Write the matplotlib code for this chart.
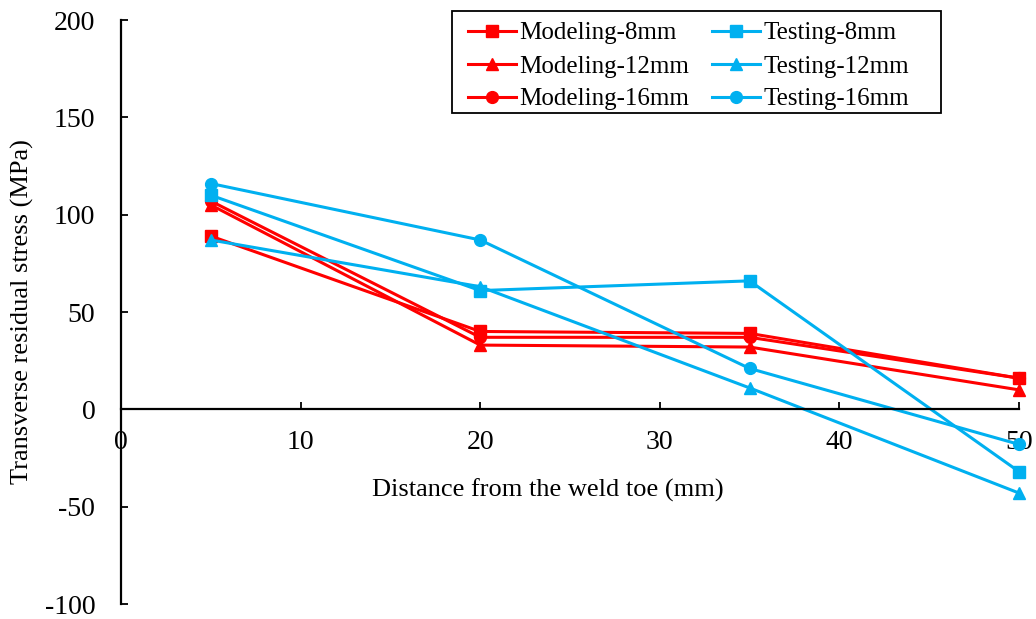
import matplotlib
matplotlib.use("Agg")
import matplotlib.pyplot as plt
from matplotlib.patches import Rectangle

plt.rcParams['font.family'] = ['Liberation Serif', 'DejaVu Serif']

distance = [5, 20, 35, 50]
modeling_8 = [89, 40, 39, 16]
modeling_12 = [105, 33, 32, 10]
modeling_16 = [107, 37, 37, 16]
testing_8 = [110, 61, 66, -32]
testing_12 = [87, 63, 11, -43]
testing_16 = [116, 87, 21, -18]

x_ticks = [0, 10, 20, 30, 40, 50]
y_ticks = [-100, -50, 0, 50, 100, 150, 200]

RED = '#FF0000'
BLUE = '#00B0F0'

W, H = 1036, 619
fig = plt.figure(figsize=(W/100, H/100), dpi=100)
ax = fig.add_axes([121/W, 1-604/H, 898/W, 584/H])

series = [
    (modeling_8, 'Modeling-8mm', RED, 's'),
    (modeling_12, 'Modeling-12mm', RED, '^'),
    (modeling_16, 'Modeling-16mm', RED, 'o'),
    (testing_8, 'Testing-8mm', BLUE, 's'),
    (testing_12, 'Testing-12mm', BLUE, '^'),
    (testing_16, 'Testing-16mm', BLUE, 'o'),
]
for vals, lab, col, mk in series:
    ms = 8.5 if mk != 's' else 8
    ax.plot(distance, vals, color=col, marker=mk, markersize=ms, linewidth=2.2,
            label=lab, clip_on=False)

ax.set_xlim(0, 50)
ax.set_ylim(-100, 200)
ax.set_xticks(x_ticks)
ax.set_yticks(y_ticks)
ax.set_xticklabels([str(t) for t in x_ticks])
ax.set_yticklabels([str(t) for t in y_ticks])

ax.spines['top'].set_visible(False)
ax.spines['right'].set_visible(False)
ax.spines['bottom'].set_position(('data', 0))
for s in ('left', 'bottom'):
    ax.spines[s].set_linewidth(1.6)

ax.tick_params(axis='y', direction='in', length=5, width=1.3, labelsize=20, pad=18.5)
ax.tick_params(axis='x', direction='in', length=5, width=1.3, labelsize=20, pad=15)

ax.set_xlabel('Distance from the weld toe (mm)', fontsize=19)
ax.xaxis.set_label_coords(0.4755, 0.215)
ax.set_ylabel('Transverse residual stress (MPa)', fontsize=19)
ax.yaxis.set_label_coords(-0.097, 0.5)

leg = ax.legend(ncol=2, loc='upper left', bbox_to_anchor=((468-121)/898, (604-22)/584),
                fontsize=18, frameon=False,
                handlelength=1.9, handletextpad=0.13, columnspacing=0.95,
                labelspacing=0.42, borderpad=0, borderaxespad=0)

fig.patches.append(Rectangle((452/W, 1-113/H), (941-452)/W, (113-11)/H,
                             transform=fig.transFigure, fill=False,
                             edgecolor='black', linewidth=1.3))

fig.savefig('out.png', dpi=100)
